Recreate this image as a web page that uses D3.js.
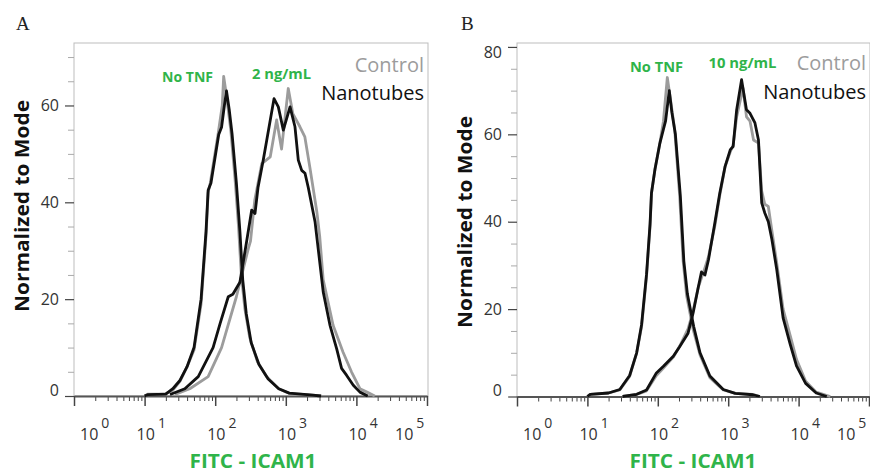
<!DOCTYPE html>
<html>
<head>
<meta charset="utf-8">
<script src="https://cdn.jsdelivr.net/npm/d3@7"></script>
<style>
  body { margin: 0; background: #fff; }
  svg { display: block; }
</style>
</head>
<body>
<div id="chart"></div>
<script>
// x values are log10 of fluorescence, y is % of mode
const aNoTnfControl = [[1.0,0],[1.05,0.4],[1.2,0.4],[1.3,0.5],[1.4,1.2],[1.5,3],[1.6,6],[1.7,9.5],[1.8,19],[1.87,33],[1.9,42],[1.93,44],[2.04,54],[2.1,60],[2.12,66],[2.16,62],[2.22,55],[2.28,45],[2.33,35],[2.37,25],[2.42,18],[2.49,12],[2.6,7],[2.73,4],[2.9,1.5],[3.05,0.5],[3.3,0.3],[3.5,0]];
const aNoTnfNano = [[1.0,0],[1.05,0.3],[1.3,0.4],[1.4,1.5],[1.5,3.2],[1.6,6],[1.7,10],[1.8,20],[1.87,34],[1.9,42.5],[1.94,44],[2.05,54],[2.09,55.5],[2.13,60],[2.16,63],[2.2,59],[2.24,54],[2.3,44],[2.35,34],[2.39,24],[2.44,17],[2.51,11],[2.62,6.5],[2.75,3.5],[2.9,1.5],[3.05,0.6],[3.3,0.3],[3.5,0]];
const aTnfControl = [[1.43,0.3],[1.64,1.5],[1.9,4],[2.09,10],[2.3,20.5],[2.47,30.5],[2.5,32],[2.56,40.4],[2.66,48],[2.78,49.4],[2.87,57],[2.94,51],[3.035,63.5],[3.1,58.3],[3.2,55.6],[3.27,53.5],[3.34,47.3],[3.44,38],[3.48,33],[3.53,24],[3.67,14.6],[3.81,9.1],[3.93,5],[4.05,1.5],[4.15,0.8],[4.26,0]];
const aTnfNano = [[1.36,0.3],[1.57,1.5],[1.76,4],[1.97,10],[2.07,15],[2.185,20.5],[2.25,21],[2.35,23.5],[2.446,32],[2.517,38.4],[2.564,37.7],[2.606,43],[2.68,48.7],[2.73,52.8],[2.833,61.4],[2.894,59.7],[2.965,54.9],[3.06,59.7],[3.13,55.6],[3.177,48.7],[3.225,46.6],[3.272,46],[3.319,43],[3.414,36],[3.53,21.5],[3.626,14.6],[3.72,9.8],[3.79,5.7],[3.86,4.3],[3.956,2.2],[4.05,0.8],[4.16,0]];

const bNoTnfControl = [[1.0,0],[1.04,0.5],[1.3,0.8],[1.46,1.5],[1.6,4.6],[1.7,10],[1.77,16],[1.84,27.5],[1.89,39],[1.91,46.5],[1.96,52],[2.03,58],[2.08,63],[2.135,73],[2.18,68],[2.24,61],[2.31,46],[2.36,31],[2.41,23],[2.5,15.5],[2.6,9.5],[2.74,4.3],[2.93,1.5],[3.1,0.7],[3.35,0.5],[3.45,0]];
const bNoTnfNano = [[1.0,0],[1.04,0.5],[1.3,0.8],[1.46,1.6],[1.6,4.8],[1.7,10],[1.77,16.5],[1.84,28],[1.89,39.5],[1.91,46.5],[1.96,52],[2.03,58],[2.078,61],[2.11,63],[2.163,70],[2.2,65],[2.25,60],[2.32,46],[2.37,31],[2.42,23.5],[2.51,16],[2.6,10],[2.74,4.7],[2.93,1.6],[3.1,0.7],[3.35,0.4],[3.45,0]];
const bTnfControl = [[1.5,0],[1.7,0.5],[1.84,1.3],[1.98,4.8],[2.08,6.5],[2.22,9],[2.31,11.5],[2.43,15.5],[2.5,19.5],[2.575,25],[2.67,29.5],[2.72,32],[2.81,39],[2.88,46],[2.955,52.6],[3.03,56],[3.07,57.5],[3.12,64],[3.21,70.6],[3.26,64],[3.31,63],[3.36,58.7],[3.43,58],[3.476,47],[3.52,44],[3.57,43.5],[3.62,38],[3.69,30.5],[3.78,20],[3.88,14],[3.97,8.5],[4.1,3.5],[4.25,1],[4.45,0]];
const bTnfNano = [[1.5,0],[1.7,0.5],[1.84,1.5],[1.98,5.4],[2.08,6.9],[2.22,9.2],[2.31,11.4],[2.43,14.5],[2.5,19],[2.575,25],[2.62,28.5],[2.67,27.8],[2.72,31.3],[2.81,39.7],[2.88,46.5],[2.955,52.6],[3.03,56.5],[3.07,57.2],[3.12,65.6],[3.19,72.5],[3.26,65.6],[3.31,64.8],[3.38,62.6],[3.43,58.7],[3.476,44.3],[3.52,42],[3.57,40],[3.62,36],[3.69,29],[3.78,18],[3.88,12],[3.97,7],[4.1,3],[4.25,0.8],[4.4,0]];

const decades = [0, 1, 2, 3, 4, 5];
const yTicksA = [0, 20, 40, 60];
const yTicksB = [0, 20, 40, 60, 80];
const legendLabels = ["Control", "Nanotubes"];

const W = 870, H = 474;
const green = "#2fb44a", grey = "#9c9c9c", dark = "#111";

const svg = d3.select("#chart").append("svg")
  .attr("width", W).attr("height", H)
  .attr("font-family", "'Open Sans', sans-serif");

function drawPanel(p) {
  const x = d3.scaleLog().domain([1, 1e5]).range([p.left, p.right]);
  const y = d3.scaleLinear().domain([0, p.yMax]).range([p.bottom, p.top]);
  const g = svg.append("g");

  // frame
  g.append("rect")
    .attr("x", p.left).attr("y", p.top)
    .attr("width", p.right - p.left + 1).attr("height", p.bottom - p.top)
    .attr("fill", "none").attr("stroke", "#bdbdbd").attr("stroke-width", 1);

  // y axis minor + major
  const minor = d3.range(0, p.yMax, 5).filter(v => v % 20 !== 0);
  g.append("g").attr("transform", `translate(${p.left},0)`)
    .call(d3.axisLeft(y).tickValues(minor).tickSize(6).tickFormat(""))
    .call(a => a.select(".domain").remove())
    .call(a => a.selectAll("line").attr("stroke", "#aaa"));
  const ya = g.append("g").attr("transform", `translate(${p.left},0)`)
    .call(d3.axisLeft(y).tickValues(p.yTicks).tickSize(9).tickPadding(6))
    .call(a => a.select(".domain").remove());
  ya.selectAll("line").attr("stroke", "#444").attr("stroke-width", 1.2);
  ya.selectAll("text")
    .attr("font-size", 16).attr("fill", "#333")
    .attr("font-family", "'Open Sans', sans-serif")
    .attr("dy", d => d === 0 ? "-0.05em" : (d === 80 ? "0.65em" : "0.32em"));

  // x axis
  const minorX = [];
  decades.slice(0, -1).forEach(d => { for (let k = 2; k < 10; k++) minorX.push(k * Math.pow(10, d)); });
  g.append("g").attr("transform", `translate(0,${p.bottom})`)
    .call(d3.axisBottom(x).tickValues(minorX).tickSize(5).tickFormat("").tickSizeOuter(0))
    .call(a => a.select(".domain").remove())
    .call(a => a.selectAll("line").attr("stroke", "#444"));
  const xa = g.append("g").attr("transform", `translate(0,${p.bottom})`)
    .call(d3.axisBottom(x).tickValues(decades.map(d => Math.pow(10, d))).tickSize(10).tickFormat("").tickSizeOuter(0));
  xa.select(".domain").attr("stroke", "#555").attr("stroke-width", 2);
  xa.selectAll("line").attr("stroke", "#444").attr("stroke-width", 1.5);

  decades.forEach(d => {
    const shift = d === 0 ? 15 : (d === 5 ? -23 : 1);
    const t = g.append("text")
      .attr("x", x(Math.pow(10, d)) + shift - 9).attr("y", 440)
      .attr("font-size", 16).attr("fill", "#333");
    t.append("tspan").text("10");
    t.append("tspan").attr("dx", 3).attr("dy", -12).attr("font-size", 14).text(d);
  });

  // curves
  const line = d3.line().x(d => x(Math.pow(10, d[0]))).y(d => y(d[1]));
  p.series.forEach(s => {
    g.append("path").datum(s.data)
      .attr("d", line)
      .attr("fill", "none")
      .attr("stroke", s.color)
      .attr("stroke-width", 2.8)
      .attr("stroke-linejoin", "round");
  });

  // labels
  g.append("text").text(p.letter)
    .attr("x", p.letterX).attr("y", 30)
    .attr("font-family", "'Liberation Serif', serif").attr("font-size", 19).attr("fill", "#222");

  g.append("text").text("Normalized to Mode")
    .attr("transform", `translate(${p.ylabX},${p.ylabY}) rotate(-90)`)
    .attr("text-anchor", "middle").attr("font-weight", "bold").attr("font-size", 20)
    .attr("textLength", 212).attr("lengthAdjust", "spacingAndGlyphs").attr("fill", "#111");

  g.append("text").text("FITC - ICAM1")
    .attr("x", p.xlabX).attr("y", 468)
    .attr("text-anchor", "middle").attr("font-weight", "bold").attr("font-size", 20)
    .attr("textLength", 127).attr("lengthAdjust", "spacingAndGlyphs").attr("fill", green);

  p.notes.forEach(n => {
    g.append("text").text(n.text)
      .attr("x", n.x).attr("y", n.y)
      .attr("text-anchor", "middle").attr("font-weight", "bold").attr("font-size", 13.5)
      .attr("textLength", n.w).attr("lengthAdjust", "spacingAndGlyphs")
      .attr("fill", green);
  });

  legendLabels.forEach((l, i) => {
    g.append("text").text(l)
      .attr("x", p.legendX).attr("y", p.legendY + i * 28.5)
      .attr("text-anchor", "end").attr("font-size", 20)
      .attr("fill", i === 0 ? grey : dark);
  });
}

drawPanel({
  left: 74, right: 427, top: 43, bottom: 396, yMax: 72.9, yTicks: yTicksA,
  letter: "A", letterX: 16, ylabX: 29, ylabY: 206, xlabX: 253,
  legendX: 424, legendY: 71.5,
  notes: [{ text: "No TNF", x: 187.5, y: 82, w: 51 }, { text: "2 ng/mL", x: 281.5, y: 78.5, w: 59 }],
  series: [
    { data: aNoTnfControl, color: grey }, { data: aTnfControl, color: grey },
    { data: aNoTnfNano, color: dark }, { data: aTnfNano, color: dark }
  ]
});

drawPanel({
  left: 517, right: 869, top: 43, bottom: 396.5, yMax: 80.9, yTicks: yTicksB,
  letter: "B", letterX: 461, ylabX: 472, ylabY: 222, xlabX: 693,
  legendX: 866, legendY: 70,
  notes: [{ text: "No TNF", x: 656.5, y: 71.5, w: 53 }, { text: "10 ng/mL", x: 742.5, y: 68, w: 68 }],
  series: [
    { data: bNoTnfControl, color: grey }, { data: bTnfControl, color: grey },
    { data: bNoTnfNano, color: dark }, { data: bTnfNano, color: dark }
  ]
});
</script>
</body>
</html>
